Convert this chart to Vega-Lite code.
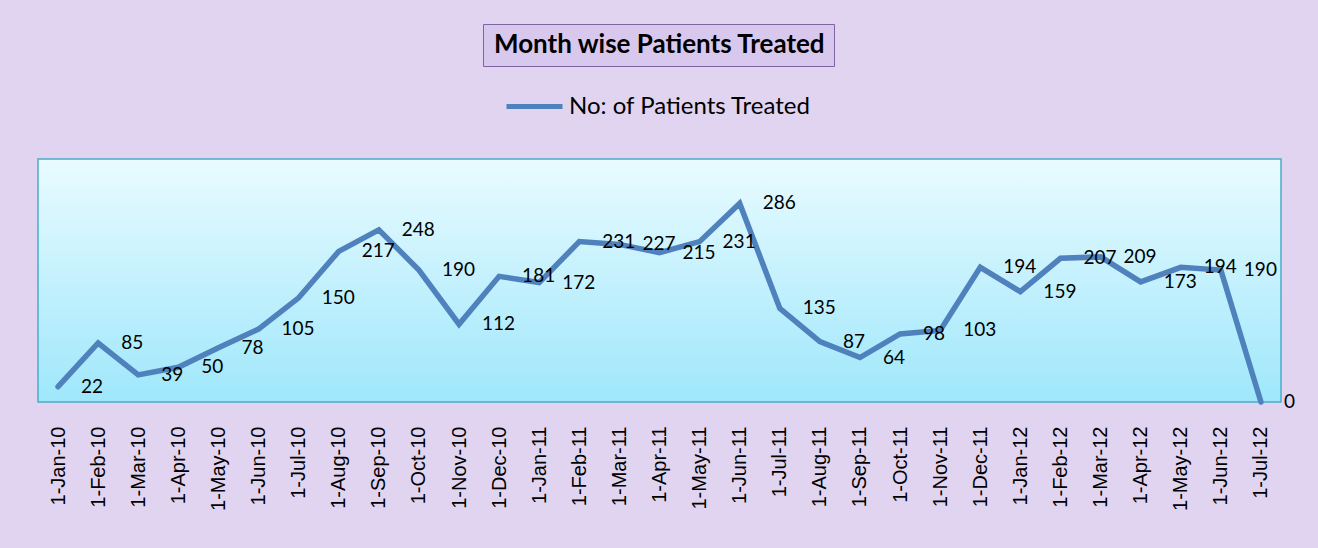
{
  "$schema": "https://vega.github.io/schema/vega-lite/v6.json",
  "width": 1243,
  "height": 243,
  "autosize": {"type": "none"},
  "padding": {"left": 38, "top": 159, "right": 37, "bottom": 146},
  "background": "#e0d4f0",
  "config": {
    "font": "Lato",
    "view": {
      "fill": {"gradient": "linear", "x1": 0, "y1": 0, "x2": 0, "y2": 1, "stops": [{"offset": 0, "color": "#e9fbff"}, {"offset": 1, "color": "#9fe7fb"}]},
      "stroke": "#4bacc6",
      "strokeWidth": 1.5
    }
  },
  "data": {
    "values": [
      {"month": "1-Jan-10", "patients": 22},
      {"month": "1-Feb-10", "patients": 85},
      {"month": "1-Mar-10", "patients": 39},
      {"month": "1-Apr-10", "patients": 50},
      {"month": "1-May-10", "patients": 78},
      {"month": "1-Jun-10", "patients": 105},
      {"month": "1-Jul-10", "patients": 150},
      {"month": "1-Aug-10", "patients": 217},
      {"month": "1-Sep-10", "patients": 248},
      {"month": "1-Oct-10", "patients": 190},
      {"month": "1-Nov-10", "patients": 112},
      {"month": "1-Dec-10", "patients": 181},
      {"month": "1-Jan-11", "patients": 172},
      {"month": "1-Feb-11", "patients": 231},
      {"month": "1-Mar-11", "patients": 227},
      {"month": "1-Apr-11", "patients": 215},
      {"month": "1-May-11", "patients": 231},
      {"month": "1-Jun-11", "patients": 286},
      {"month": "1-Jul-11", "patients": 135},
      {"month": "1-Aug-11", "patients": 87},
      {"month": "1-Sep-11", "patients": 64},
      {"month": "1-Oct-11", "patients": 98},
      {"month": "1-Nov-11", "patients": 103},
      {"month": "1-Dec-11", "patients": 194},
      {"month": "1-Jan-12", "patients": 159},
      {"month": "1-Feb-12", "patients": 207},
      {"month": "1-Mar-12", "patients": 209},
      {"month": "1-Apr-12", "patients": 173},
      {"month": "1-May-12", "patients": 194},
      {"month": "1-Jun-12", "patients": 190},
      {"month": "1-Jul-12", "patients": 0}
    ]
  },
  "encoding": {
    "x": {
      "field": "month",
      "type": "ordinal",
      "sort": null,
      "scale": {"type": "point", "padding": 0.5},
      "axis": {"title": null, "labelAngle": -90, "labelFontSize": 20, "labelColor": "#000000", "labelPadding": 24, "ticks": false, "domain": false, "grid": false, "labelFont": "Liberation Sans"}
    },
    "y": {
      "field": "patients",
      "type": "quantitative",
      "scale": {"domain": [0, 350]},
      "axis": null
    }
  },
  "layer": [
    {
      "mark": {"type": "line", "strokeWidth": 5.5, "strokeCap": "round"},
      "encoding": {
        "color": {
          "datum": "No: of Patients Treated",
          "type": "nominal",
          "scale": {"range": ["#4f81bd"]},
          "legend": {"orient": "none", "legendX": 466, "legendY": -83, "title": null, "symbolType": "stroke", "symbolStrokeWidth": 5, "symbolSize": 3136, "labelFontSize": 24, "labelFont": "Lato", "labelColor": "#000000", "labelOffset": 4, "labelLimit": 0, "padding": 0}
        }
      }
    },
    {
      "mark": {"type": "text", "align": "left", "baseline": "middle", "dx": 23, "fontSize": 19, "font": "Lato", "color": "#000000"},
      "encoding": {"text": {"field": "patients", "type": "quantitative"}}
    },
    {
      "mark": {"type": "point", "opacity": 0},
      "encoding": {
        "shape": {
          "datum": "Month wise Patients Treated",
          "type": "nominal",
          "legend": {"orient": "none", "legendX": 445, "legendY": -135, "title": null, "symbolSize": 0, "symbolStrokeWidth": 0, "symbolOpacity": 0, "labelOffset": -23, "labelFontSize": 26, "labelFontWeight": "bold", "labelFont": "Lato", "labelColor": "#000000", "padding": 8, "fillColor": "#d9c8ee", "strokeColor": "#8064a2", "labelLimit": 0}
        }
      }
    }
  ]
}
